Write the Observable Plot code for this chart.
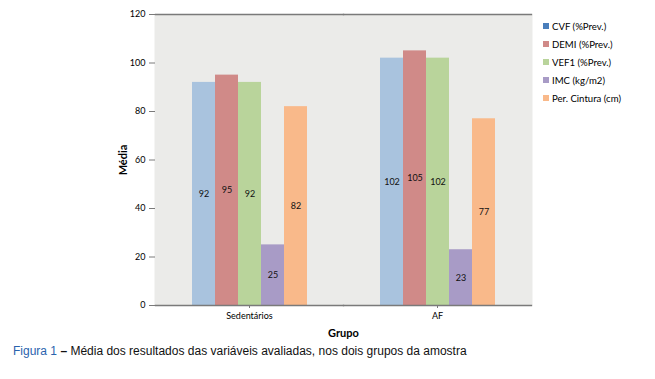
<!DOCTYPE html>
<html>
<head>
<meta charset="utf-8">
<script src="https://cdn.jsdelivr.net/npm/d3@7"></script>
<script src="https://cdn.jsdelivr.net/npm/@observablehq/plot@0.6"></script>
<style>
  body { margin: 0; background: #fff; }
  #wrap { position: relative; width: 655px; height: 379px; font-family: Lato, "Open Sans", sans-serif; }
  #chart svg { display: block; }
  g[aria-label="y-axis label"] text, g[aria-label="fx-axis label"] text { font-weight: bold; font-size: 11px; fill: #000; }
  #legend { position: absolute; left: 543px; top: 17px; font-size: 9.6px; color: #000; }
  #legend div { height: 18px; display: flex; align-items: center; }
  #legend span.sw { display: inline-block; width: 6px; height: 6px; margin-right: 3px; }
  #caption { position: absolute; left: 13px; top: 344px; font-family: "Liberation Sans", Arial, sans-serif; font-size: 12px; color: #111; white-space: nowrap; }
  #caption .fig { color: #2a63ad; }
</style>
</head>
<body>
<div id="wrap">
  <div id="chart"></div>
  <div id="legend"></div>
  <div id="caption"><span class="fig">Figura 1</span> <b>–</b> Média dos resultados das variáveis avaliadas, nos dois grupos da amostra</div>
</div>
<script>
const groups = ["Sedentários", "AF"];
const variables = ["CVF (%Prev.)", "DEMI (%Prev.)", "VEF1 (%Prev.)", "IMC (kg/m2)", "Per. Cintura (cm)"];
const sedentariosValues = [92, 95, 92, 25, 82];
const afValues = [102, 105, 102, 23, 77];
const yTicks = [0, 20, 40, 60, 80, 100, 120];
const barColors = ["#a9c3de", "#d08a88", "#b9d49b", "#a89bc6", "#f9b98a"];
const legendColors = ["#4a7ebb", "#d08a88", "#b9d49b", "#a89bc6", "#f9b98a"];

const data = [];
variables.forEach((v, i) => data.push({grp: groups[0], variable: v, value: sedentariosValues[i]}));
variables.forEach((v, i) => data.push({grp: groups[1], variable: v, value: afValues[i]}));

const chart = Plot.plot({
  width: 655,
  height: 342,
  marginLeft: 155,
  marginRight: 124,
  marginTop: 14,
  marginBottom: 37,
  style: {fontFamily: "Lato, 'Open Sans', sans-serif", fontSize: "9px", color: "#000", background: "transparent"},
  fx: {domain: groups, padding: 0},
  x: {domain: variables, paddingInner: 0, paddingOuter: 1.52, axis: null},
  y: {domain: [0, 120]},
  color: {domain: variables, range: barColors},
  marks: [
    Plot.frame({fill: "#ebebe9", stroke: null, insetLeft: -1, insetRight: -1}),
    Plot.barY(data, {fx: "grp", x: "variable", y: "value", fill: "variable"}),
    Plot.text(data, {fx: "grp", x: "variable", y: d => d.value / 2, text: d => String(d.value), fontSize: 9, fill: "#111"}),
    Plot.frame({anchor: "top", stroke: "#7a7a7a", strokeWidth: 1.3}),
    Plot.frame({anchor: "bottom", stroke: "#7a7a7a", strokeWidth: 1.3}),
    Plot.axisY({anchor: "left", facetAnchor: "left", ticks: yTicks, tickSize: 6, tickPadding: 4, line: true, stroke: "#7a7a7a", label: "Média", labelAnchor: "center", labelArrow: "none", labelOffset: 36}),
    Plot.axisY({anchor: "right", facetAnchor: "right", ticks: [], tickSize: 0, line: true, stroke: "#7a7a7a", label: null}),
    Plot.axisFx({anchor: "bottom", tickSize: 3, tickPadding: 4, stroke: "#7a7a7a", label: "Grupo", labelAnchor: "center", labelArrow: "none", labelOffset: 31})
  ]
});
document.getElementById("chart").appendChild(chart);

const legend = d3.select("#legend");
variables.forEach((v, i) => {
  const row = legend.append("div");
  row.append("span").attr("class", "sw").style("background", legendColors[i]);
  row.append("span").text(v);
});
</script>
</body>
</html>
